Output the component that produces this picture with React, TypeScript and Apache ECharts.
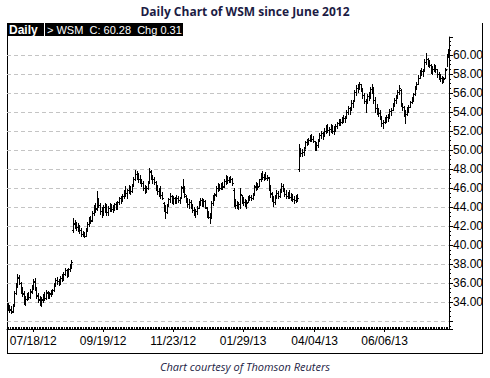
import React, { useEffect, useRef } from 'react';
import * as echarts from 'echarts';

const startDate = '2012-06-25';
const endDate = '2013-08-02';
const marketHolidays = [
  '2012-07-04', '2012-09-03', '2012-10-29', '2012-10-30', '2012-11-22', '2012-12-25',
  '2013-01-01', '2013-01-21', '2013-02-18', '2013-03-29', '2013-05-27', '2013-07-04',
];
const tickLabels = ['07/18/12', '09/19/12', '11/23/12', '01/29/13', '04/04/13', '06/06/13'];

const opens = [
  33.8,33.5,33.3,33.1,33.7,35.0,35.9,36.5,36.0,35.3,
  34.9,34.0,34.3,34.9,34.5,35.1,35.6,36.2,35.4,34.7,
  34.3,33.9,34.2,34.7,34.4,35.0,34.6,34.8,35.0,35.3,
  35.9,36.3,36.2,36.0,36.5,36.4,37.0,37.4,36.8,37.5,
  37.8,41.6,42.3,42.0,41.9,41.8,41.6,41.2,41.1,41.0,
  41.6,42.2,42.8,42.6,43.4,44.0,43.9,44.8,44.2,43.6,
  43.4,44.0,44.1,43.5,43.9,44.2,43.8,44.0,44.3,44.0,
  44.5,44.9,44.7,45.2,45.6,45.5,45.8,46.0,45.7,46.3,
  47.0,47.5,47.2,47.0,46.8,46.5,46.0,45.8,46.0,46.7,
  47.7,47.2,47.0,46.6,46.0,45.7,45.6,45.3,44.4,43.9,
  43.5,44.2,44.8,45.2,44.6,45.0,44.7,45.0,44.7,45.1,
  46.1,45.8,45.2,44.7,44.3,44.5,44.1,43.7,43.3,43.6,
  43.9,44.4,44.7,44.3,44.6,43.9,43.3,43.0,43.0,44.4,
  45.0,45.4,46.0,46.2,46.0,46.3,46.2,46.7,47.1,46.8,
  47.0,46.9,45.8,44.5,44.2,44.0,44.3,45.3,44.8,44.5,
  44.5,44.5,45.0,45.1,45.0,45.4,46.1,46.4,46.2,46.9,
  47.4,47.2,47.3,47.1,47.1,46.0,45.4,44.9,44.5,45.1,
  45.5,45.2,45.7,46.2,46.0,45.4,45.2,45.4,45.1,45.2,
  44.8,44.7,45.0,48.0,49.9,49.7,49.8,50.1,50.8,50.9,
  51.1,51.4,51.2,50.9,50.4,50.5,51.0,51.6,51.8,51.5,
  52.0,52.4,52.1,52.2,52.5,52.0,52.3,52.5,52.8,53.0,
  52.9,53.3,53.4,53.5,54.0,54.4,54.3,55.0,55.2,56.1,
  56.5,56.8,56.9,56.4,55.8,55.2,55.1,55.7,55.6,56.4,
  56.5,55.3,54.4,54.1,53.9,53.5,52.8,52.9,53.2,53.5,
  53.5,54.1,54.2,54.8,55.3,55.6,56.1,56.3,54.8,54.5,
  54.0,53.8,54.3,54.5,55.1,55.4,55.9,56.4,57.0,57.6,
  58.2,58.3,58.4,59.3,59.6,59.1,59.0,58.4,58.5,58.9,
  58.5,58.0,57.8,57.6,57.4,57.6,58.5,60.0,
];

const highs = [
  33.9,33.7,33.6,33.8,35.2,36.0,37.0,36.8,36.1,35.6,
  35.2,34.6,35.0,35.1,35.4,35.8,36.4,36.5,35.6,34.9,
  34.6,34.5,34.8,35.1,35.3,35.2,35.1,35.3,35.4,36.0,
  36.5,36.6,36.4,36.7,36.9,37.2,37.6,37.5,37.6,38.0,
  38.4,42.8,42.6,42.4,42.3,42.1,41.8,41.5,41.4,41.8,
  42.4,43.0,43.1,43.6,44.2,44.4,45.7,45.0,44.4,44.0,
  44.2,44.4,44.3,44.1,44.4,44.3,44.2,44.4,44.5,44.6,
  45.1,45.2,45.4,45.8,46.2,45.9,46.3,46.2,46.4,47.2,
  47.9,47.8,47.6,47.4,47.0,46.7,46.3,46.2,46.7,48.1,
  47.9,47.4,47.2,46.7,46.3,46.0,46.2,45.6,44.5,44.2,
  44.3,45.0,45.5,45.3,45.2,45.1,45.3,45.2,45.1,46.2,
  46.9,46.2,45.3,44.9,44.8,44.7,44.3,44.0,43.8,44.1,
  44.6,44.9,44.9,44.8,44.7,44.0,43.6,43.4,44.6,45.3,
  45.5,46.2,46.5,46.4,46.5,46.6,46.9,47.4,47.3,47.2,
  47.3,47.1,46.0,44.8,44.6,44.5,46.0,45.3,45.1,44.8,
  44.7,45.2,45.3,45.3,45.5,46.3,46.6,46.5,47.0,47.6,
  47.8,47.5,47.7,47.4,47.2,46.3,45.6,45.2,45.3,45.8,
  45.7,45.9,46.5,46.4,46.0,45.8,45.6,45.8,45.5,45.4,
  45.2,45.3,45.4,50.6,50.2,50.1,50.3,51.0,51.2,51.3,
  51.6,51.7,51.5,51.0,50.8,51.2,51.8,52.0,51.9,52.3,
  52.6,52.7,52.4,52.7,52.6,52.5,52.7,53.0,53.3,53.3,
  53.5,53.7,53.6,54.2,54.6,54.5,55.3,55.3,56.3,56.8,
  57.0,57.2,57.0,56.5,56.0,55.4,55.9,56.1,56.6,57.0,
  56.6,55.6,54.8,54.4,54.2,53.6,53.2,53.5,53.7,53.8,
  54.3,54.4,55.0,55.5,55.8,56.3,56.8,56.4,55.0,54.6,
  54.2,54.5,54.7,55.2,55.6,56.0,56.7,57.2,57.9,58.4,
  58.6,58.5,59.6,60.2,59.7,59.5,59.1,58.8,59.1,59.0,
  58.5,58.2,58.0,57.8,57.7,58.6,60.1,60.6,
];

const lows = [
  33.2,33.0,32.8,33.0,33.6,34.8,35.6,35.9,35.0,34.6,
  33.8,33.7,34.2,34.3,34.4,34.9,35.4,35.3,34.4,34.0,
  33.7,33.6,34.0,34.2,34.3,34.4,34.4,34.6,34.8,35.2,
  35.7,35.9,35.8,35.9,36.2,36.3,36.8,36.6,36.7,37.3,
  37.6,41.4,41.8,41.6,41.5,41.3,41.0,40.9,40.8,40.9,
  41.5,42.0,42.3,42.5,43.2,43.5,43.7,44.0,43.3,43.0,
  43.2,43.5,43.2,43.2,43.6,43.6,43.5,43.7,43.8,43.8,
  44.3,44.4,44.6,44.9,45.2,45.0,45.5,45.4,45.6,46.2,
  46.8,46.9,46.6,46.5,46.2,45.8,45.5,45.6,45.9,46.6,
  46.9,46.5,46.4,45.8,45.4,45.2,45.0,44.8,43.6,42.8,
  43.4,44.2,44.5,44.4,44.3,44.4,44.4,44.5,44.4,45.0,
  45.6,45.1,44.5,44.0,43.9,43.9,43.5,43.2,43.0,43.3,
  43.9,44.2,44.1,44.1,43.9,43.0,42.8,42.3,42.8,44.2,
  44.7,45.2,45.7,45.8,45.9,45.9,46.1,46.4,46.5,46.6,
  46.6,46.3,44.1,43.9,43.9,43.8,43.9,44.4,44.2,44.1,
  43.9,44.5,44.7,44.7,44.8,45.3,45.8,45.9,46.2,46.7,
  47.0,46.8,46.9,46.8,45.8,45.1,44.6,44.1,44.3,45.0,
  45.0,45.1,45.6,45.7,45.2,44.9,44.9,45.0,44.7,44.6,
  44.4,44.5,44.6,47.8,49.4,49.4,49.5,50.2,50.5,50.6,
  50.9,51.0,50.8,50.0,50.0,50.3,51.0,51.3,51.2,51.5,
  51.8,51.9,51.6,51.9,51.8,51.7,52.0,52.3,52.6,52.6,
  52.8,53.0,52.9,53.4,53.8,53.8,54.2,54.5,55.2,55.8,
  56.1,56.4,56.2,55.5,54.9,54.0,55.0,55.3,55.5,56.0,
  55.0,54.0,53.8,53.6,53.3,52.5,52.3,52.8,53.0,53.1,
  53.5,53.7,54.2,54.6,54.9,55.5,55.9,54.6,54.2,53.6,
  52.8,53.7,54.0,54.5,54.9,55.2,55.8,56.4,56.9,57.6,
  57.9,57.8,58.3,59.1,58.8,58.7,58.1,58.0,58.3,58.2,
  57.7,57.5,57.3,57.1,57.2,57.6,58.8,59.8,
];

const closes = [
  33.5,33.2,33.0,33.6,35.0,35.8,36.6,36.0,35.3,34.8,
  34.0,34.3,34.8,34.5,35.2,35.6,36.1,35.5,34.6,34.2,
  33.9,34.3,34.6,34.4,35.1,34.6,34.9,35.0,35.3,35.9,
  36.3,36.2,36.0,36.5,36.4,37.0,37.4,36.8,37.5,37.8,
  38.2,42.2,42.0,41.9,41.8,41.6,41.2,41.1,41.0,41.6,
  42.2,42.8,42.5,43.4,44.0,43.8,44.8,44.2,43.6,43.5,
  44.0,44.2,43.5,43.9,44.2,43.8,44.0,44.3,44.0,44.5,
  44.9,44.6,45.2,45.6,45.5,45.8,46.0,45.7,46.2,47.0,
  47.5,47.2,47.0,46.8,46.5,46.0,45.8,46.0,46.5,47.8,
  47.2,47.0,46.6,46.0,45.7,45.5,45.3,45.0,44.0,43.5,
  44.1,44.8,45.2,44.6,45.0,44.7,45.0,44.7,44.9,46.0,
  45.8,45.4,44.7,44.3,44.5,44.1,43.7,43.4,43.6,43.9,
  44.4,44.7,44.3,44.6,44.0,43.3,43.0,42.9,44.4,45.0,
  45.3,46.0,46.2,46.0,46.3,46.1,46.7,47.1,46.8,47.0,
  46.9,46.5,44.5,44.2,44.1,44.3,45.4,44.8,44.5,44.6,
  44.4,45.0,45.1,45.0,45.3,46.2,46.4,46.1,46.9,47.4,
  47.2,47.3,47.1,47.2,46.0,45.5,44.9,44.5,45.1,45.5,
  45.2,45.7,46.2,46.0,45.4,45.2,45.4,45.1,45.2,44.8,
  44.7,45.0,44.9,49.9,49.7,49.8,50.0,50.8,50.9,51.1,
  51.4,51.2,51.0,50.4,50.5,51.0,51.6,51.8,51.5,52.0,
  52.4,52.1,52.2,52.5,52.0,52.3,52.5,52.8,53.0,52.9,
  53.3,53.4,53.5,54.0,54.4,54.3,55.0,55.2,56.1,56.5,
  56.8,56.9,56.5,55.8,55.2,55.1,55.7,55.6,56.4,56.6,
  55.3,54.4,54.1,53.9,53.6,52.8,52.9,53.2,53.5,53.4,
  54.1,54.2,54.8,55.3,55.6,56.1,56.5,54.8,54.5,54.0,
  53.8,54.3,54.5,55.1,55.4,55.9,56.4,57.0,57.6,58.2,
  58.3,58.4,59.3,59.6,59.1,59.0,58.4,58.5,58.9,58.5,
  58.0,57.8,57.6,57.4,57.5,58.4,59.97,60.28,
];

function buildTradingDays(): string[] {
  const out: string[] = [];
  const d = new Date(startDate + 'T00:00:00Z');
  const end = new Date(endDate + 'T00:00:00Z');
  while (d.getTime() <= end.getTime()) {
    const dow = d.getUTCDay();
    const iso = d.toISOString().slice(0, 10);
    if (dow !== 0 && dow !== 6 && !marketHolidays.includes(iso)) {
      const mm = String(d.getUTCMonth() + 1).padStart(2, '0');
      const dd = String(d.getUTCDate()).padStart(2, '0');
      const yy = String(d.getUTCFullYear()).slice(2);
      out.push(`${mm}/${dd}/${yy}`);
    }
    d.setUTCDate(d.getUTCDate() + 1);
  }
  return out;
}

const INK = '#000000';
const NAVY = '#1c1c44';
const AXIS_FONT = '"Liberation Sans", Arial, sans-serif';

export default function App() {
  const ref = useRef<HTMLDivElement>(null);

  useEffect(() => {
    if (!ref.current) return;
    const chart = echarts.init(ref.current, undefined, { renderer: 'svg' });
    const dates = buildTradingDays();
    const n = Math.min(dates.length, closes.length);
    const cats = dates.slice(0, n);
    const ohlc = cats.map((_, i) => [i, opens[i], highs[i], lows[i], closes[i]]);
    const last = closes[n - 1];
    const chg = closes[n - 1] - closes[n - 2];
    const isLabel = (idx: number, val: string) => tickLabels.includes(val);

    const option: any = {
      animation: false,
      backgroundColor: '#ffffff',
      grid: { left: 7, right: 41, top: 37, bottom: 49, containLabel: false, outerBoundsMode: 'none' },
      xAxis: [
        {
          type: 'category',
          data: cats,
          position: 'bottom',
          boundaryGap: true,
          axisLine: { show: true, lineStyle: { color: INK, width: 1 } },
          axisTick: { show: true, interval: 0, inside: true, length: 2, lineStyle: { color: INK, width: 1 } },
          axisLabel: { show: false },
          splitLine: { show: false },
        },
        {
          type: 'category',
          data: cats,
          position: 'bottom',
          boundaryGap: true,
          axisLine: { show: false },
          axisTick: { show: true, interval: isLabel, alignWithLabel: true, inside: false, length: 3, lineStyle: { color: INK, width: 1 } },
          axisLabel: { show: true, interval: isLabel, color: INK, fontSize: 12, fontFamily: AXIS_FONT, margin: 6 },
          splitLine: { show: false },
        },
      ],
      yAxis: {
        type: 'value',
        position: 'right',
        min: 31.16,
        max: 61.9,
        splitNumber: 15,
        axisLine: { show: true, lineStyle: { color: INK, width: 1 } },
        axisTick: { show: true, inside: false, length: 4, lineStyle: { color: INK, width: 1 } },
        minorTick: { show: true, splitNumber: 4, length: 2, lineStyle: { color: INK, width: 1 } },
        splitLine: { show: true, showMinLine: false, showMaxLine: false, lineStyle: { color: '#c4c4c4', width: 1, type: [4, 3] } },
        axisLabel: {
          show: true,
          showMinLabel: false,
          showMaxLabel: false,
          color: INK,
          fontSize: 12,
          fontFamily: AXIS_FONT,
          margin: 4,
          formatter: (v: number) => (v < 33 || Math.abs(v - Math.round(v)) > 1e-6 ? '' : v.toFixed(2)),
        },
      },
      series: [
        {
          type: 'custom',
          xAxisIndex: 0,
          yAxisIndex: 0,
          clip: true,
          data: ohlc,
          encode: { x: 0, y: [1, 2, 3, 4] },
          renderItem: (params: any, api: any) => {
            const i = api.value(0);
            const o = api.coord([i, api.value(1)]);
            const h = api.coord([i, api.value(2)]);
            const l = api.coord([i, api.value(3)]);
            const c = api.coord([i, api.value(4)]);
            const x = Math.round(h[0]) + 0.5;
            const yo = Math.round(o[1]) + 0.5;
            const yc = Math.round(c[1]) + 0.5;
            const style = { stroke: INK, lineWidth: 1 };
            return {
              type: 'group',
              children: [
                { type: 'line', shape: { x1: x, y1: Math.round(h[1]), x2: x, y2: Math.round(l[1]) + 1 }, style },
                { type: 'line', shape: { x1: x - 1.5, y1: yo, x2: x, y2: yo }, style },
                { type: 'line', shape: { x1: x, y1: yc, x2: x + 1.5, y2: yc }, style },
              ],
            };
          },
        },
      ],
      graphic: [
        {
          type: 'text',
          x: 245,
          y: 11,
          style: {
            text: 'Daily Chart of WSM since June 2012',
            fill: NAVY,
            fontSize: 12,
            fontWeight: 'bold',
            fontFamily: '"Open Sans", sans-serif',
            align: 'center',
            verticalAlign: 'middle',
          },
        },
        { type: 'rect', shape: { x: 7, y: 23, width: 37, height: 13 }, style: { fill: INK } },
        {
          type: 'text',
          x: 9,
          y: 30,
          style: { text: 'Daily', fill: '#ffffff', fontSize: 12, fontWeight: 'bold', fontFamily: AXIS_FONT, align: 'left', verticalAlign: 'middle' },
        },
        { type: 'rect', shape: { x: 45, y: 23, width: 138, height: 13 }, style: { fill: INK } },
        {
          type: 'text',
          x: 47,
          y: 30,
          style: {
            text: '>\u00a0WSM\u00a0\u00a0C:\u00a0' + last.toFixed(2) + '\u00a0\u00a0Chg\u00a0' + chg.toFixed(2),
            fill: '#ffffff',
            fontSize: 11,
            fontFamily: AXIS_FONT,
            align: 'left',
            verticalAlign: 'middle',
          },
        },
        { type: 'line', shape: { x1: 7.5, y1: 23, x2: 7.5, y2: 354 }, style: { stroke: INK, lineWidth: 1 } },
        { type: 'line', shape: { x1: 482.5, y1: 23, x2: 482.5, y2: 354 }, style: { stroke: INK, lineWidth: 1 } },
        { type: 'line', shape: { x1: 7, y1: 353.5, x2: 483, y2: 353.5 }, style: { stroke: INK, lineWidth: 1 } },
        {
          type: 'text',
          x: 245,
          y: 366,
          style: {
            text: 'Chart courtesy of Thomson Reuters',
            fill: NAVY,
            fontSize: 11,
            fontStyle: 'italic',
            fontFamily: '"Open Sans", sans-serif',
            align: 'center',
            verticalAlign: 'middle',
          },
        },
      ],
    };

    chart.setOption(option);
    return () => chart.dispose();
  }, []);

  return (
    <div
      ref={ref}
      style={{ position: 'fixed', left: 0, top: 0, width: 490, height: 378, background: '#ffffff' }}
    />
  );
}
